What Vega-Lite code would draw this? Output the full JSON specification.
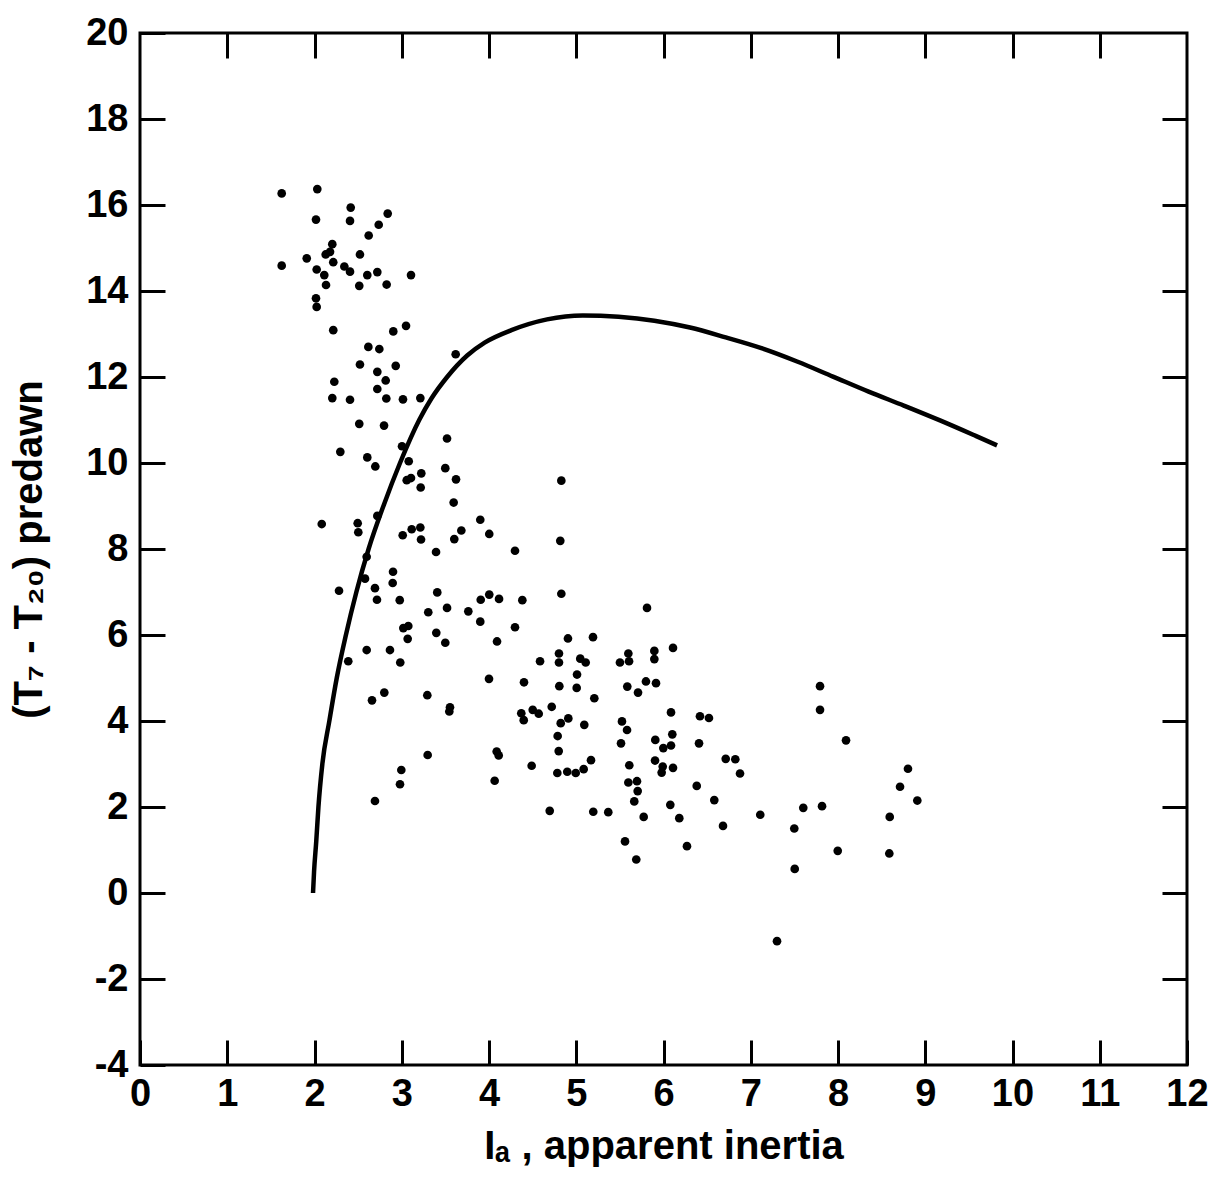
{
  "$schema": "https://vega.github.io/schema/vega-lite/v6.json",
  "width": 1047,
  "height": 1032,
  "autosize": {"type": "none"},
  "padding": {"left": 140, "top": 33, "right": 22, "bottom": 115},
  "background": "white",
  "config": {
    "view": {"stroke": "black", "strokeWidth": 3},
    "axis": {
      "domain": false,
      "grid": false,
      "tickColor": "black",
      "tickWidth": 3,
      "tickSize": -25,
      "labelColor": "black",
      "labelFont": "Liberation Sans",
      "labelFontWeight": "bold",
      "labelFontSize": 38,
      "labelFlush": false,
      "labelOverlap": false,
      "titleColor": "black",
      "titleFont": "Liberation Sans",
      "titleFontWeight": "bold",
      "titleFontSize": 40
    }
  },
  "datasets": {
    "points": [
      {"x": 1.624, "y": 16.27}, {"x": 2.032, "y": 16.37}, {"x": 2.415, "y": 15.94}, {"x": 2.017, "y": 15.66},
      {"x": 2.407, "y": 15.63}, {"x": 2.839, "y": 15.80}, {"x": 2.736, "y": 15.54}, {"x": 2.621, "y": 15.29},
      {"x": 2.204, "y": 15.09}, {"x": 2.128, "y": 14.85}, {"x": 2.178, "y": 14.91}, {"x": 1.911, "y": 14.76},
      {"x": 2.521, "y": 14.85}, {"x": 2.215, "y": 14.67}, {"x": 1.624, "y": 14.59}, {"x": 2.025, "y": 14.50},
      {"x": 2.112, "y": 14.37}, {"x": 2.342, "y": 14.57}, {"x": 2.407, "y": 14.45}, {"x": 2.720, "y": 14.44},
      {"x": 2.605, "y": 14.37}, {"x": 3.106, "y": 14.37}, {"x": 2.132, "y": 14.14}, {"x": 2.513, "y": 14.12},
      {"x": 2.827, "y": 14.15}, {"x": 2.017, "y": 13.83}, {"x": 2.025, "y": 13.63}, {"x": 2.215, "y": 13.09},
      {"x": 2.903, "y": 13.06}, {"x": 3.049, "y": 13.19}, {"x": 2.617, "y": 12.70}, {"x": 2.743, "y": 12.65},
      {"x": 3.618, "y": 12.53}, {"x": 2.521, "y": 12.29}, {"x": 2.931, "y": 12.26}, {"x": 2.720, "y": 12.12},
      {"x": 2.227, "y": 11.89}, {"x": 2.816, "y": 11.92}, {"x": 2.720, "y": 11.72}, {"x": 2.204, "y": 11.51},
      {"x": 2.407, "y": 11.47}, {"x": 2.823, "y": 11.50}, {"x": 3.014, "y": 11.48}, {"x": 3.213, "y": 11.51},
      {"x": 2.513, "y": 10.91}, {"x": 2.797, "y": 10.87}, {"x": 3.519, "y": 10.57}, {"x": 3.003, "y": 10.39},
      {"x": 2.296, "y": 10.26}, {"x": 2.605, "y": 10.13}, {"x": 2.697, "y": 9.92}, {"x": 3.080, "y": 10.04},
      {"x": 3.499, "y": 9.88}, {"x": 3.224, "y": 9.76}, {"x": 3.057, "y": 9.60}, {"x": 3.106, "y": 9.65},
      {"x": 3.622, "y": 9.62}, {"x": 3.217, "y": 9.43}, {"x": 3.595, "y": 9.08}, {"x": 2.720, "y": 8.77},
      {"x": 3.900, "y": 8.68}, {"x": 2.083, "y": 8.58}, {"x": 2.495, "y": 8.60}, {"x": 2.502, "y": 8.39},
      {"x": 3.011, "y": 8.32}, {"x": 3.114, "y": 8.46}, {"x": 3.213, "y": 8.50}, {"x": 3.683, "y": 8.43},
      {"x": 3.221, "y": 8.22}, {"x": 4.003, "y": 8.35}, {"x": 3.602, "y": 8.23}, {"x": 3.393, "y": 7.93},
      {"x": 2.598, "y": 7.82}, {"x": 2.900, "y": 7.47}, {"x": 2.896, "y": 7.21}, {"x": 2.579, "y": 7.31},
      {"x": 2.281, "y": 7.03}, {"x": 2.693, "y": 7.09}, {"x": 2.716, "y": 6.82}, {"x": 2.977, "y": 6.81},
      {"x": 3.407, "y": 6.99}, {"x": 4.003, "y": 6.94}, {"x": 3.905, "y": 6.82}, {"x": 4.115, "y": 6.84},
      {"x": 3.519, "y": 6.63}, {"x": 3.304, "y": 6.53}, {"x": 3.763, "y": 6.55}, {"x": 3.900, "y": 6.31},
      {"x": 3.018, "y": 6.16}, {"x": 3.075, "y": 6.21}, {"x": 3.396, "y": 6.05}, {"x": 3.068, "y": 5.91},
      {"x": 3.499, "y": 5.82}, {"x": 4.092, "y": 5.85}, {"x": 2.598, "y": 5.65}, {"x": 2.865, "y": 5.65},
      {"x": 2.387, "y": 5.39}, {"x": 2.983, "y": 5.36}, {"x": 4.000, "y": 4.98}, {"x": 2.800, "y": 4.66},
      {"x": 2.659, "y": 4.48}, {"x": 3.293, "y": 4.60}, {"x": 3.553, "y": 4.32}, {"x": 3.545, "y": 4.22},
      {"x": 3.297, "y": 3.21}, {"x": 4.088, "y": 3.29}, {"x": 4.111, "y": 3.20}, {"x": 2.995, "y": 2.86},
      {"x": 2.980, "y": 2.53}, {"x": 4.065, "y": 2.61}, {"x": 2.693, "y": 2.14},
      {"x": 4.829, "y": 9.59}, {"x": 4.298, "y": 7.96}, {"x": 4.817, "y": 8.19}, {"x": 4.829, "y": 6.96},
      {"x": 4.382, "y": 6.81}, {"x": 4.298, "y": 6.18}, {"x": 4.905, "y": 5.92}, {"x": 5.192, "y": 5.95},
      {"x": 5.811, "y": 6.63}, {"x": 6.109, "y": 5.70}, {"x": 4.802, "y": 5.57}, {"x": 4.802, "y": 5.36},
      {"x": 4.585, "y": 5.39}, {"x": 5.046, "y": 5.45}, {"x": 5.108, "y": 5.36}, {"x": 5.501, "y": 5.36},
      {"x": 5.597, "y": 5.57}, {"x": 5.605, "y": 5.39}, {"x": 5.895, "y": 5.63}, {"x": 5.895, "y": 5.44},
      {"x": 4.401, "y": 4.90}, {"x": 4.806, "y": 4.81}, {"x": 5.005, "y": 4.77}, {"x": 5.009, "y": 5.08},
      {"x": 5.585, "y": 4.80}, {"x": 5.799, "y": 4.92}, {"x": 5.914, "y": 4.88}, {"x": 5.708, "y": 4.66},
      {"x": 5.207, "y": 4.53}, {"x": 4.370, "y": 4.18}, {"x": 4.398, "y": 4.02}, {"x": 4.501, "y": 4.26},
      {"x": 4.570, "y": 4.17}, {"x": 4.719, "y": 4.33}, {"x": 4.822, "y": 3.95}, {"x": 4.909, "y": 4.06},
      {"x": 5.092, "y": 3.91}, {"x": 4.787, "y": 3.65}, {"x": 4.799, "y": 3.30}, {"x": 5.524, "y": 3.99},
      {"x": 5.582, "y": 3.79}, {"x": 5.513, "y": 3.48}, {"x": 6.086, "y": 4.20}, {"x": 6.101, "y": 3.69},
      {"x": 5.906, "y": 3.56}, {"x": 5.998, "y": 3.37}, {"x": 6.086, "y": 3.43}, {"x": 6.418, "y": 4.11},
      {"x": 6.521, "y": 4.07}, {"x": 6.407, "y": 3.48}, {"x": 4.489, "y": 2.96}, {"x": 5.169, "y": 3.09},
      {"x": 4.783, "y": 2.79}, {"x": 4.897, "y": 2.82}, {"x": 4.994, "y": 2.79}, {"x": 5.085, "y": 2.88},
      {"x": 5.608, "y": 2.97}, {"x": 5.903, "y": 3.08}, {"x": 5.991, "y": 2.94}, {"x": 5.979, "y": 2.80},
      {"x": 6.109, "y": 2.91}, {"x": 5.597, "y": 2.57}, {"x": 5.696, "y": 2.60}, {"x": 5.704, "y": 2.37},
      {"x": 5.665, "y": 2.13}, {"x": 6.713, "y": 3.12}, {"x": 6.823, "y": 3.11}, {"x": 6.877, "y": 2.78},
      {"x": 6.381, "y": 2.49}, {"x": 6.582, "y": 2.16}, {"x": 6.078, "y": 2.05}, {"x": 4.696, "y": 1.91},
      {"x": 5.195, "y": 1.89}, {"x": 5.367, "y": 1.88}, {"x": 5.773, "y": 1.77}, {"x": 6.181, "y": 1.74},
      {"x": 6.682, "y": 1.56}, {"x": 5.559, "y": 1.20}, {"x": 6.269, "y": 1.09}, {"x": 5.688, "y": 0.78},
      {"x": 7.109, "y": 1.82}, {"x": 7.794, "y": 4.81}, {"x": 7.794, "y": 4.26}, {"x": 8.092, "y": 3.55},
      {"x": 7.602, "y": 1.98}, {"x": 7.817, "y": 2.02}, {"x": 7.499, "y": 1.50}, {"x": 7.504, "y": 0.56},
      {"x": 7.997, "y": 0.98}, {"x": 7.301, "y": -1.12}, {"x": 8.802, "y": 2.89}, {"x": 8.711, "y": 2.47},
      {"x": 8.909, "y": 2.15}, {"x": 8.593, "y": 1.77}, {"x": 8.588, "y": 0.92}
    ],
    "curve": [
      {"x": 1.983, "y": 0.0}, {"x": 1.995, "y": 0.5}, {"x": 2.02, "y": 1.2}, {"x": 2.045, "y": 2.0},
      {"x": 2.09, "y": 3.0}, {"x": 2.17, "y": 4.0}, {"x": 2.255, "y": 5.0}, {"x": 2.36, "y": 6.0},
      {"x": 2.48, "y": 7.0}, {"x": 2.62, "y": 8.0}, {"x": 2.79, "y": 9.0}, {"x": 2.98, "y": 10.0},
      {"x": 3.2, "y": 11.0}, {"x": 3.34, "y": 11.5}, {"x": 3.52, "y": 12.0}, {"x": 3.75, "y": 12.5},
      {"x": 3.95, "y": 12.8}, {"x": 4.257, "y": 13.09}, {"x": 4.666, "y": 13.34}, {"x": 5.076, "y": 13.43},
      {"x": 5.485, "y": 13.40}, {"x": 5.895, "y": 13.31}, {"x": 6.304, "y": 13.15}, {"x": 6.713, "y": 12.92},
      {"x": 7.122, "y": 12.67}, {"x": 7.531, "y": 12.36}, {"x": 7.942, "y": 12.01}, {"x": 8.351, "y": 11.66},
      {"x": 8.760, "y": 11.33}, {"x": 9.169, "y": 10.99}, {"x": 9.578, "y": 10.63}, {"x": 9.823, "y": 10.41}
    ]
  },
  "layer": [
    {
      "data": {"name": "points"},
      "mark": {"type": "circle", "color": "black", "opacity": 1, "size": 75},
      "encoding": {
        "x": {
          "field": "x", "type": "quantitative",
          "scale": {"domain": [0, 12], "nice": false, "zero": false},
          "axis": {
            "orient": "bottom",
            "values": [0, 1, 2, 3, 4, 5, 6, 7, 8, 9, 10, 11, 12],
            "labelExpr": "'' + datum.value",
            "labelPadding": 35,
            "title": "Iₐ , apparent inertia",
            "titlePadding": 13
          }
        },
        "y": {
          "field": "y", "type": "quantitative",
          "scale": {"domain": [-4, 20], "nice": false, "zero": false},
          "axis": {
            "orient": "left",
            "values": [-4, -2, 0, 2, 4, 6, 8, 10, 12, 14, 16, 18, 20],
            "labelExpr": "'' + datum.value",
            "labelPadding": 37,
            "title": "(T₇ - T₂₀) predawn",
            "titlePadding": 36
          }
        }
      }
    },
    {
      "data": {"name": "curve"},
      "mark": {"type": "line", "color": "black", "strokeWidth": 4.5, "interpolate": "monotone"},
      "encoding": {
        "x": {
          "field": "x", "type": "quantitative",
          "scale": {"domain": [0, 12], "nice": false, "zero": false},
          "axis": {"orient": "top", "values": [1, 2, 3, 4, 5, 6, 7, 8, 9, 10, 11], "labels": false, "title": null}
        },
        "y": {
          "field": "y", "type": "quantitative",
          "scale": {"domain": [-4, 20], "nice": false, "zero": false},
          "axis": {"orient": "right", "values": [-2, 0, 2, 4, 6, 8, 10, 12, 14, 16, 18], "labels": false, "title": null}
        }
      }
    }
  ],
  "resolve": {"axis": {"x": "independent", "y": "independent"}}
}
